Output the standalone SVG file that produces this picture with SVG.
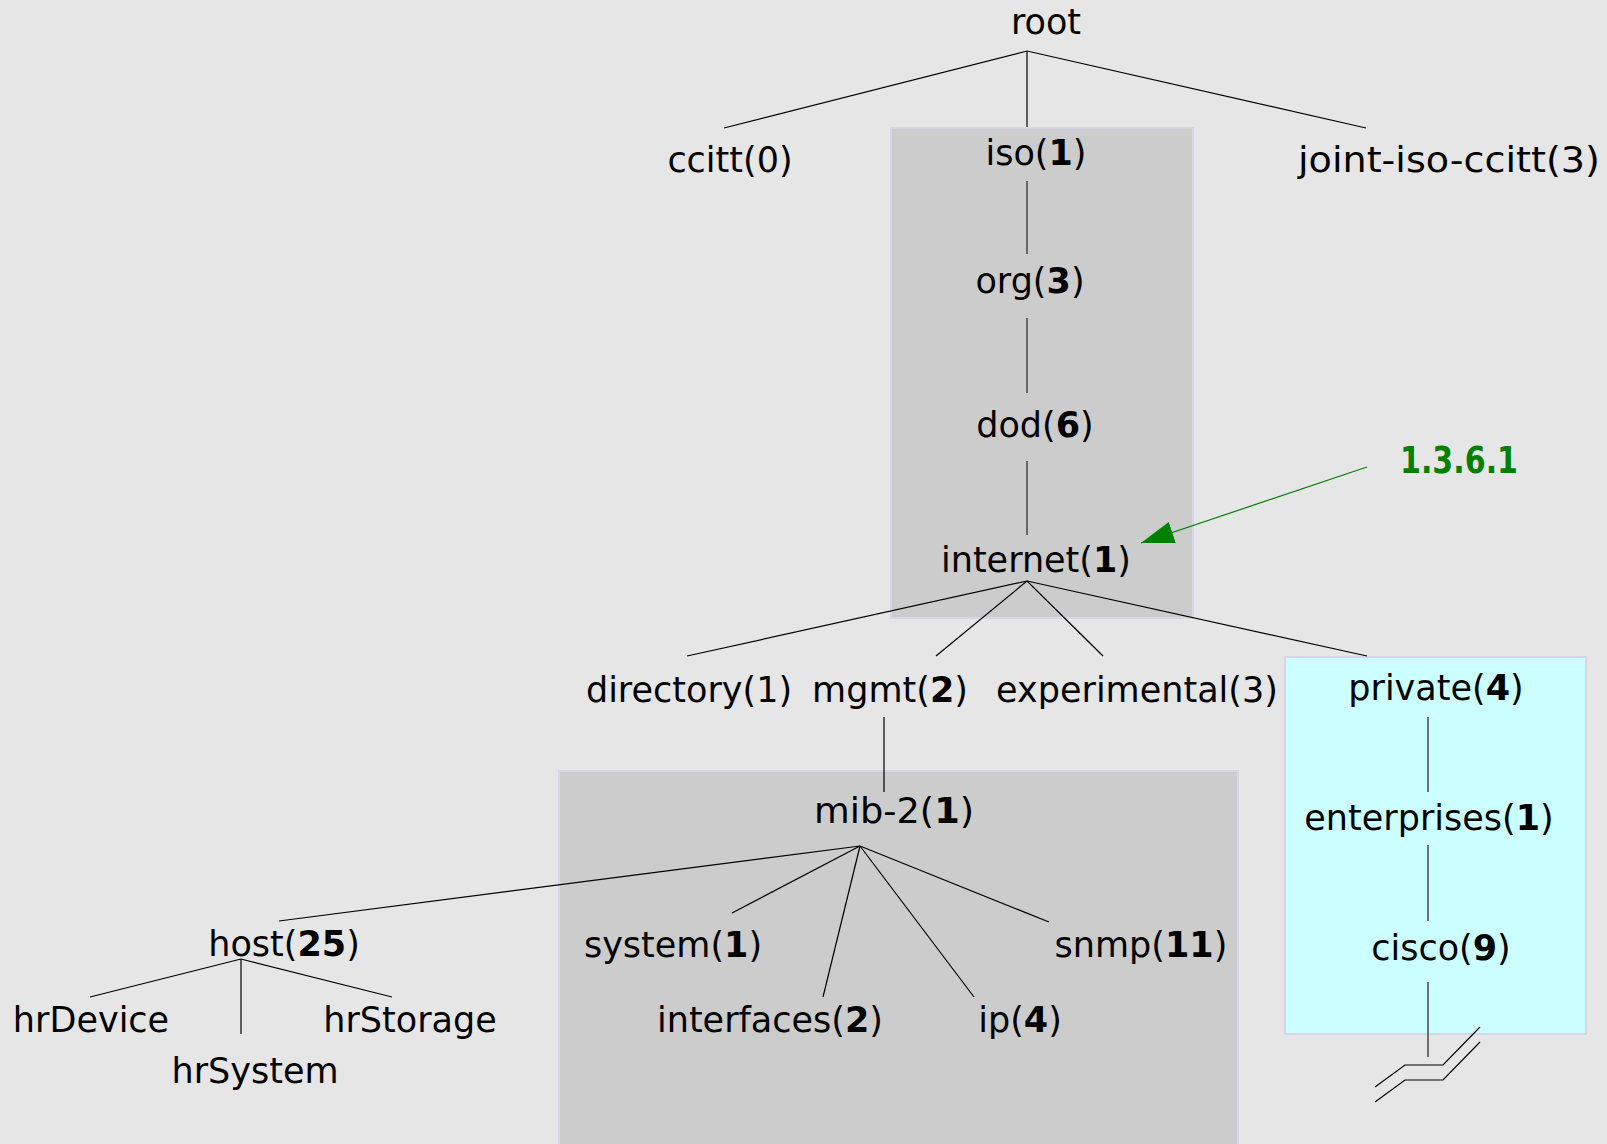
<svg xmlns="http://www.w3.org/2000/svg" width="1607" height="1144" viewBox="0 0 1607 1144">
<style>
text{font-family:"DejaVu Sans","Liberation Sans",sans-serif;font-size:35px;fill:#000;text-anchor:middle}
.b{font-weight:bold}
.box{fill:#cccccc;stroke:#d6d6e4;stroke-width:2}
.cyan{fill:#ccffff;stroke:#d6d6e8;stroke-width:2}
.c line,.c polyline{stroke:#000;stroke-width:1.2;fill:none}
.c .v{stroke:#444;stroke-width:1.5}
.oid{fill:#008000;font-weight:bold}
</style>
<defs>
<marker id="ah" markerUnits="userSpaceOnUse" markerWidth="34" markerHeight="24" refX="33" refY="12" orient="auto">
<path d="M0,1 L33,12 L0,23 z" fill="#008000"/>
</marker>
</defs>
<rect width="1607" height="1144" fill="#e6e6e6"/>
<g id="groups">
<rect id="iso-box" class="box" x="891" y="128" width="302" height="490"/>
<rect id="mib-box" class="box" x="559" y="771" width="679" height="380"/>
<rect id="private-box" class="cyan" x="1285" y="657" width="301" height="377"/>
</g>
<g class="c" id="connectors">
<line x1="1027" y1="51" x2="724" y2="128"/>
<line x1="1027" y1="51" x2="1027" y2="127"/>
<line x1="1027" y1="51" x2="1366" y2="128"/>
<line class="v" x1="1027" y1="181" x2="1027" y2="254"/>
<line class="v" x1="1027" y1="318" x2="1027" y2="393"/>
<line class="v" x1="1027" y1="461" x2="1027" y2="535"/>
<line x1="1027" y1="581" x2="687" y2="656"/>
<line x1="1027" y1="581" x2="936" y2="656"/>
<line x1="1027" y1="581" x2="1103" y2="656"/>
<line x1="1027" y1="581" x2="1367" y2="656"/>
<line x1="884" y1="717" x2="884" y2="792"/>
<line x1="860" y1="846" x2="279" y2="921"/>
<line x1="860" y1="846" x2="732" y2="913"/>
<line x1="860" y1="846" x2="823" y2="997"/>
<line x1="860" y1="846" x2="974" y2="997"/>
<line x1="860" y1="846" x2="1049" y2="922"/>
<line x1="241" y1="959" x2="90" y2="997"/>
<line x1="241" y1="959" x2="241" y2="1034"/>
<line x1="241" y1="959" x2="392" y2="997"/>
<line class="v" x1="1428" y1="717" x2="1428" y2="792"/>
<line class="v" x1="1428" y1="845" x2="1428" y2="921"/>
<line class="v" x1="1428" y1="982" x2="1428" y2="1057"/>
<polyline points="1375,1087 1405,1065 1443,1065 1480,1027"/>
<polyline points="1375,1102 1405,1080 1443,1080 1480,1042"/>
<line x1="1367" y1="467" x2="1141" y2="543" style="stroke:#008000" marker-end="url(#ah)"/>
</g>
<g id="n-root"><text x="1046" y="34">root</text></g>
<g id="n-ccitt"><text x="730" y="172">ccitt(0)</text></g>
<g id="n-iso"><text x="1036" y="165">iso(<tspan class="b">1</tspan>)</text></g>
<g id="n-joint"><text x="1449" y="172" textLength="302" lengthAdjust="spacingAndGlyphs">joint-iso-ccitt(3)</text></g>
<g id="n-org"><text x="1030" y="293">org(<tspan class="b">3</tspan>)</text></g>
<g id="n-dod"><text x="1035" y="437">dod(<tspan class="b">6</tspan>)</text></g>
<g id="n-internet"><text x="1036" y="572">internet(<tspan class="b">1</tspan>)</text></g>
<g id="n-oid"><text class="oid" x="1459" y="473" style="font-size:37px" textLength="118" lengthAdjust="spacingAndGlyphs">1.3.6.1</text></g>
<g id="n-directory"><text x="689" y="702">directory(1)</text></g>
<g id="n-mgmt"><text x="890" y="702">mgmt(<tspan class="b">2</tspan>)</text></g>
<g id="n-experimental"><text x="1137" y="702">experimental(3)</text></g>
<g id="n-private"><text x="1436" y="700">private(<tspan class="b">4</tspan>)</text></g>
<g id="n-enterprises"><text x="1429" y="830">enterprises(<tspan class="b">1</tspan>)</text></g>
<g id="n-cisco"><text x="1441" y="960">cisco(<tspan class="b">9</tspan>)</text></g>
<g id="n-mib2"><text x="894" y="823" textLength="160" lengthAdjust="spacingAndGlyphs">mib-2(<tspan class="b">1</tspan>)</text></g>
<g id="n-host"><text x="284" y="956">host(<tspan class="b">25</tspan>)</text></g>
<g id="n-system"><text x="673" y="957">system(<tspan class="b">1</tspan>)</text></g>
<g id="n-snmp"><text x="1141" y="957">snmp(<tspan class="b">11</tspan>)</text></g>
<g id="n-interfaces"><text x="770" y="1032">interfaces(<tspan class="b">2</tspan>)</text></g>
<g id="n-ip"><text x="1020" y="1032">ip(<tspan class="b">4</tspan>)</text></g>
<g id="n-hrDevice"><text x="91" y="1032">hrDevice</text></g>
<g id="n-hrStorage"><text x="410" y="1032">hrStorage</text></g>
<g id="n-hrSystem"><text x="255" y="1083">hrSystem</text></g>
</svg>
